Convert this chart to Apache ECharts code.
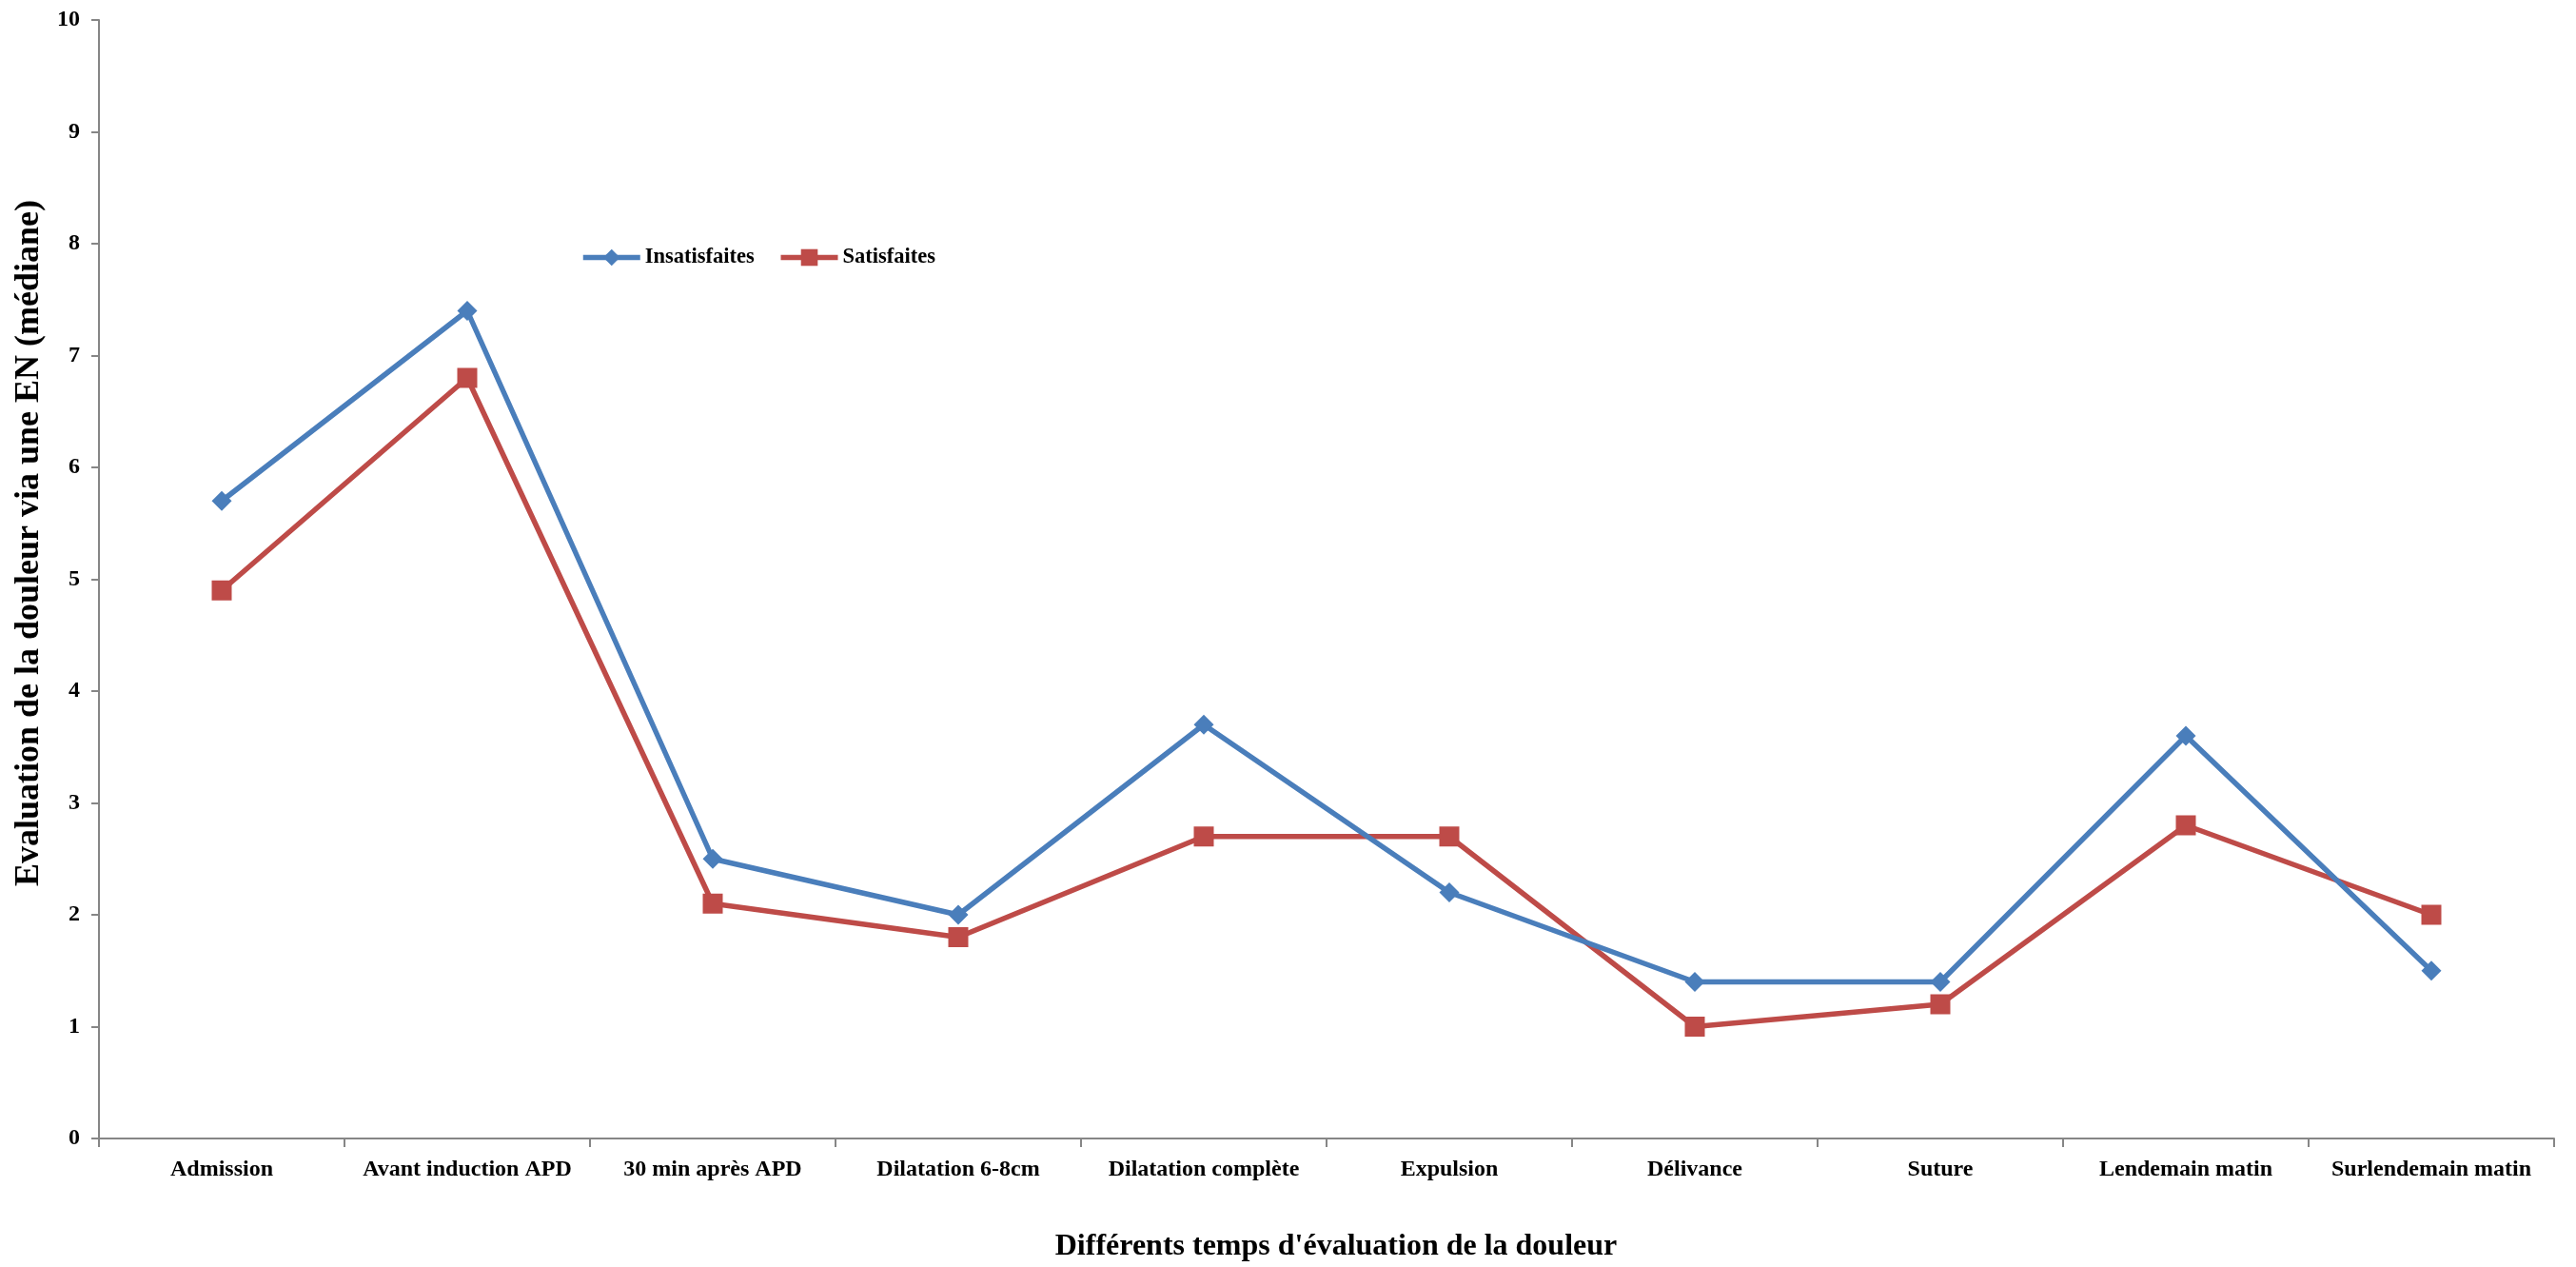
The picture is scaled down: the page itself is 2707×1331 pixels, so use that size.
<!DOCTYPE html>
<html>
<head>
<meta charset="utf-8">
<script src="https://cdn.jsdelivr.net/npm/echarts@6/dist/echarts.min.js"></script>
<style>
html,body{margin:0;padding:0;background:#fff;}
#c{width:2707px;height:1331px;}
</style>
</head>
<body>
<div id="c"></div>
<script>
const categories = ["Admission","Avant induction APD","30 min après APD","Dilatation 6-8cm","Dilatation complète","Expulsion","Délivance","Suture","Lendemain matin","Surlendemain matin"];
const insatisfaites = [5.7, 7.4, 2.5, 2.0, 3.7, 2.2, 1.4, 1.4, 3.6, 1.5];
const satisfaites = [4.9, 6.8, 2.1, 1.8, 2.7, 2.7, 1.0, 1.2, 2.8, 2.0];
const yTicks = [0,1,2,3,4,5,6,7,8,9,10];

const font = "Liberation Serif";
const chart = echarts.init(document.getElementById('c'), null, {renderer:'canvas'});
chart.setOption({
  backgroundColor:'#fff',
  animation:false,
  textStyle:{fontFamily:font},
  grid:{left:104, right:23, top:21, bottom:123, containLabel:false},
  legend:{
    left:605, top:254, itemWidth:60, itemHeight:22, itemGap:25,
    textStyle:{fontFamily:font, fontWeight:'bold', fontSize:22.5, color:'#000'},
    lineStyle:{width:5.5},
    data:['Insatisfaites','Satisfaites']
  },
  xAxis:{
    type:'category', data:categories, boundaryGap:true,
    name:"Différents temps d'évaluation de la douleur",
    nameLocation:'middle', nameGap:98,
    nameTextStyle:{fontFamily:font, fontWeight:'bold', fontSize:32, color:'#000', padding:[0,0,0,20]},
    axisLine:{lineStyle:{color:'#868686', width:2}},
    axisTick:{show:true, alignWithLabel:false, length:9, lineStyle:{color:'#868686', width:2}},
    axisLabel:{fontFamily:font, fontWeight:'bold', fontSize:24, color:'#000', margin:21, interval:0},
    splitLine:{show:false}
  },
  yAxis:{
    type:'value', min:yTicks[0], max:yTicks[yTicks.length-1], interval:1,
    name:"Evaluation de la douleur via une EN (médiane)",
    nameLocation:'middle', nameGap:46, nameRotate:90,
    nameTextStyle:{fontFamily:font, fontWeight:'bold', fontSize:36, color:'#000', padding:[0,0,0,76]},
    axisLine:{show:true, lineStyle:{color:'#868686', width:2}},
    axisTick:{show:true, length:8, lineStyle:{color:'#868686', width:2}},
    axisLabel:{fontFamily:font, fontWeight:'bold', fontSize:24, color:'#000', margin:20},
    splitLine:{show:false}
  },
  series:[
    {name:'Insatisfaites', type:'line', data:insatisfaites, symbol:'diamond', symbolSize:21,
     lineStyle:{color:'#4A7EBB', width:5.5}, itemStyle:{color:'#4A7EBB'}, z:3},
    {name:'Satisfaites', type:'line', data:satisfaites, symbol:'rect', symbolSize:21,
     lineStyle:{color:'#BE4B48', width:5.5}, itemStyle:{color:'#BE4B48'}, z:2}
  ]
});
</script>
</body>
</html>
